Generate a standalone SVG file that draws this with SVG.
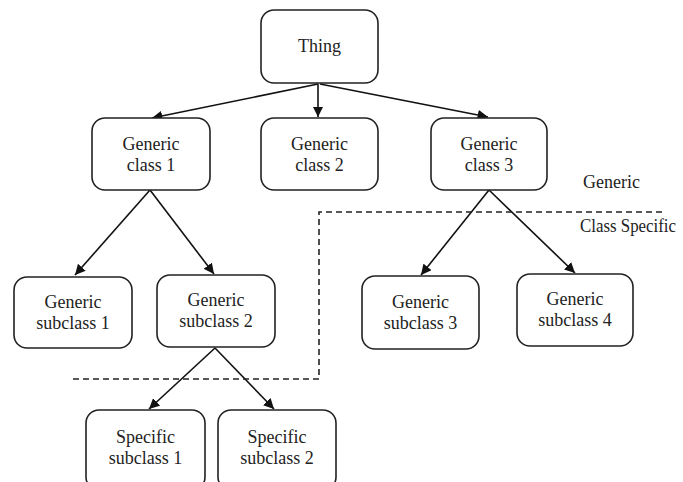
<svg xmlns="http://www.w3.org/2000/svg" width="683" height="482" viewBox="0 0 683 482">
<style>
.n rect{fill:#fff;stroke:#222;stroke-width:1.6}
text{font-family:"Liberation Serif","Times New Roman",serif;font-size:18px;fill:#222;text-anchor:middle}
.e line{stroke:#111;stroke-width:1.6;marker-end:url(#a)}
.d{fill:none;stroke:#222;stroke-width:1.6;stroke-dasharray:6 4}
</style>
<defs>
<marker id="a" viewBox="0 0 10 10" refX="10" refY="5" markerWidth="6.5" markerHeight="6.5" orient="auto" markerUnits="strokeWidth">
<path d="M0,0 L10,5 L0,10 z" fill="#111"/>
</marker>
</defs>
<rect width="683" height="482" fill="#fff"/>
<g class="e" id="connectors">
<line x1="318" y1="84" x2="152" y2="118"/>
<line x1="318" y1="84" x2="318" y2="117"/>
<line x1="320" y1="84" x2="488" y2="117"/>
<line x1="150" y1="190" x2="75" y2="275"/>
<line x1="150" y1="190" x2="214" y2="274"/>
<line x1="489" y1="190" x2="421" y2="275"/>
<line x1="489" y1="190" x2="575" y2="273"/>
<line x1="215" y1="348" x2="149" y2="409"/>
<line x1="215" y1="348" x2="274" y2="409"/>
</g>
<path class="d" d="M662,212 H319 V379 H73"/>
<g class="n" id="thing"><rect x="261" y="10" width="117" height="73" rx="13"/><text x="319.5" y="52">Thing</text></g>
<g class="n" id="gc1"><rect x="92" y="118" width="118" height="72" rx="13"/><text x="151" y="150">Generic</text><text x="151" y="171">class 1</text></g>
<g class="n" id="gc2"><rect x="261" y="118" width="117" height="72" rx="13"/><text x="319.5" y="150">Generic</text><text x="319.5" y="171">class 2</text></g>
<g class="n" id="gc3"><rect x="431" y="118" width="116" height="72" rx="13"/><text x="489" y="150">Generic</text><text x="489" y="171">class 3</text></g>
<g class="n" id="gs1"><rect x="14" y="277" width="118" height="71" rx="13"/><text x="73" y="308">Generic</text><text x="73" y="329">subclass 1</text></g>
<g class="n" id="gs2"><rect x="157" y="275" width="118" height="72" rx="13"/><text x="216" y="306">Generic</text><text x="216" y="327">subclass 2</text></g>
<g class="n" id="gs3"><rect x="362" y="276" width="117" height="73" rx="13"/><text x="420.5" y="308">Generic</text><text x="420.5" y="329">subclass 3</text></g>
<g class="n" id="gs4"><rect x="517" y="274" width="116" height="72" rx="13"/><text x="575" y="305">Generic</text><text x="575" y="326">subclass 4</text></g>
<g class="n" id="ss1"><rect x="86" y="410" width="119" height="80" rx="13"/><text x="145.5" y="443">Specific</text><text x="145.5" y="464">subclass 1</text></g>
<g class="n" id="ss2"><rect x="218" y="410" width="118" height="80" rx="13"/><text x="277" y="443">Specific</text><text x="277" y="464">subclass 2</text></g>
<g id="labels">
<text x="583" y="188" style="text-anchor:start">Generic</text>
<text x="580" y="232" style="text-anchor:start" textLength="96" lengthAdjust="spacingAndGlyphs">Class Specific</text>
</g>
</svg>
